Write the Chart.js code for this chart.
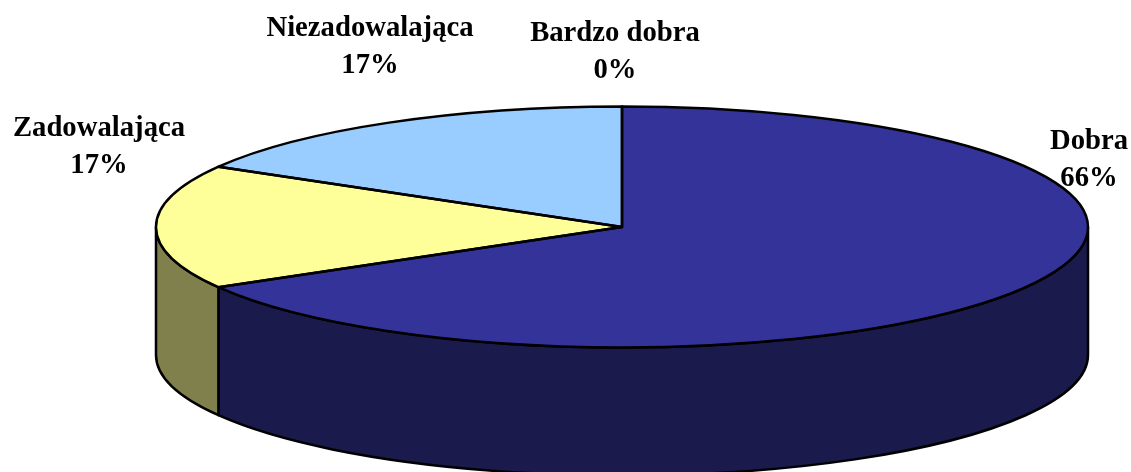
<!DOCTYPE html>
<html>
<head>
<meta charset="utf-8">
<title>Ocena</title>
<script src="https://cdn.jsdelivr.net/npm/chart.js@4"></script>
<style>
  html, body { margin: 0; padding: 0; background: #fff; overflow: hidden; }
  #wrap { width: 1131px; height: 472px; }
  canvas { display: block; }
</style>
</head>
<body>
<div id="wrap"><canvas id="pie" width="1131" height="472"></canvas></div>
<script>
// ================= Data =================
const categories = ["Bardzo dobra", "Dobra", "Zadowalająca", "Niezadowalająca"];
const shares = [0, 66.67, 16.67, 16.66];
const percentLabels = ["0%", "66%", "17%", "17%"];

// ================= Styles =================
const topColors = ["#000080", "#333399", "#ffff99", "#99ccff"];
const sideColors = ["#000040", "#1a1a4d", "#80804d", "#4d6680"];

// where the flattened pie sits on the canvas
const pieShape = { cx: 622, cy: 227, rx: 466, ry: 120.5, depth: 128 };

// label centres, one per category
const labelX = [615, 1089, 99, 370];
const labelY = [41, 149, 136, 36];
const labelLineGap = 36.5;

// ================= 3D pie plugin =================
// Chart.js only has round pies, so squash the arcs and add the side wall by hand
const tiltedPie = {
  id: "tiltedPie",

  beforeDatasetsDraw(chart) {
    const ctx = chart.ctx;
    const arcs = chart.getDatasetMeta(0).data;
    const { cx, cy, rx, ry, depth } = pieShape;

    // side wall, only the part of each slice that faces us (0..PI)
    ctx.save();
    ctx.lineWidth = 2.5;
    ctx.strokeStyle = "#000";
    ctx.lineJoin = "round";
    arcs.forEach((arc, i) => {
      const from = Math.max(arc.startAngle, 0);
      const to = Math.min(arc.endAngle, Math.PI);
      if (to <= from) return;
      ctx.beginPath();
      ctx.ellipse(cx, cy, rx, ry, 0, from, to);
      ctx.ellipse(cx, cy + depth, rx, ry, 0, to, from, true);
      ctx.closePath();
      ctx.fillStyle = sideColors[i];
      ctx.fill();
      ctx.stroke();
    });
    ctx.restore();

    // the library's arcs get drawn squashed
    const arc = arcs[0];
    ctx.save();
    ctx.translate(cx, cy);
    ctx.scale(rx / arc.outerRadius, ry / arc.outerRadius);
    ctx.translate(-arc.x, -arc.y);
  },

  afterDatasetsDraw(chart) {
    const ctx = chart.ctx;
    const arcs = chart.getDatasetMeta(0).data;
    const { cx, cy, rx, ry } = pieShape;
    ctx.restore();

    // outlines after the restore so the line width stays even
    ctx.save();
    ctx.lineWidth = 2.5;
    ctx.strokeStyle = "#000";
    ctx.lineJoin = "round";
    arcs.forEach(arc => {
      if (arc.endAngle - arc.startAngle <= 0) return;
      ctx.beginPath();
      ctx.moveTo(cx, cy);
      ctx.ellipse(cx, cy, rx, ry, 0, arc.startAngle, arc.endAngle);
      ctx.closePath();
      ctx.stroke();
    });
    ctx.restore();

    // labels
    ctx.save();
    ctx.font = "bold 28.7px 'Liberation Serif', serif";
    ctx.fillStyle = "#000";
    ctx.textAlign = "center";
    ctx.textBaseline = "alphabetic";
    categories.forEach((name, i) => {
      ctx.fillText(name, labelX[i], labelY[i]);
      ctx.fillText(percentLabels[i], labelX[i], labelY[i] + labelLineGap);
    });
    ctx.restore();
  }
};

// ================= Chart =================
new Chart(document.getElementById("pie").getContext("2d"), {
  type: "pie",
  data: {
    labels: categories,
    datasets: [{
      data: shares,
      backgroundColor: topColors,
      borderWidth: 0,
      clip: false
    }]
  },
  options: {
    responsive: false,
    animation: false,
    events: [],
    plugins: {
      legend: { display: false },
      tooltip: { enabled: false }
    }
  },
  plugins: [tiltedPie]
});
</script>
</body>
</html>
